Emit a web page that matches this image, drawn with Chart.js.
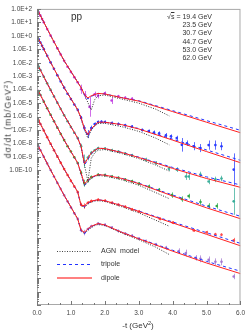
<!DOCTYPE html>
<html>
<head>
<meta charset="utf-8">
<script src="https://cdn.jsdelivr.net/npm/chart.js@4/dist/chart.umd.min.js"></script>
<style>
html,body{margin:0;padding:0;background:#fff;}
#wrap{position:relative;width:249px;height:331px;overflow:hidden;font-family:"Liberation Sans",Arial,sans-serif;color:#333;}
#c{position:absolute;left:0;top:0;display:block;}
.t{position:absolute;white-space:nowrap;line-height:1;}
.e{position:absolute;right:37px;white-space:nowrap;font-size:7px;line-height:8px;text-align:right;}
.lg{position:absolute;left:101px;font-size:7px;line-height:8px;white-space:nowrap;}
sup{font-size:70%;line-height:0;vertical-align:0.45em;}
</style>
</head>
<body>
<div id="wrap">
<canvas id="c" width="249" height="331"></canvas>
<div class="t" style="left:71px;top:12px;font-size:10px;">pp</div>
<div class="e" style="top:13px;">&#8730;<span style="text-decoration:overline">s</span> = 19.4 GeV</div>
<div class="e" style="top:21px;">23.5 GeV</div>
<div class="e" style="top:29px;">30.7 GeV</div>
<div class="e" style="top:38px;">44.7 GeV</div>
<div class="e" style="top:46px;">53.0 GeV</div>
<div class="e" style="top:54px;">62.0 GeV</div>
<div class="lg" style="top:247px;">AGN&nbsp; model</div>
<div class="lg" style="top:260px;">tripole</div>
<div class="lg" style="top:274px;">dipole</div>
<div class="t" style="left:8px;top:119px;font-size:8.5px;letter-spacing:1.1px;transform:translate(-50%,-50%) rotate(-90deg);">d&#963;/dt (mb/GeV<sup>2</sup>)</div>
<div class="t" style="left:138px;top:326px;font-size:8px;transform:translate(-50%,-50%);">-t (GeV<sup>2</sup>)</div>
</div>
<script>
// ---- model grids (-t in GeV^2) ----
const tModel = [0,0.4,0.8,1.2,1.3,1.4,1.5,1.6,1.8,2.0,2.5,3.0,4.0,5.0,6.0];
const tAGN   = [0,0.4,0.8,1.2,1.3,1.4,1.5,1.6,1.7,1.8,2.0,2.5,3.0,3.5,3.9];
const energies = ['19.4','23.5','30.7','44.7','53.0','62.0'];
const yTickLabels = ['1.0E+2','1.0E+1','1.0E+0','1.0E-1','1.0E-2','1.0E-3','1.0E-4','1.0E-5','1.0E-6','1.0E-7','1.0E-8','1.0E-9','1.0E-10'];
const xTickLabels = ['0.0','1.0','2.0','3.0','4.0','5.0','6.0'];

// ---- 19.4 GeV ----
const dipole_194  = [1.0e2,1.07,1.41e-2,3.55e-4,1.41e-4,4.47e-5,2.4e-5,3.55e-5,5.25e-5,4.79e-5,2.51e-5,1.41e-5,2.34e-6,3.8e-7,6.31e-8];
const tripole_194 = [1.0e2,1.07,1.41e-2,3.55e-4,1.35e-4,3.98e-5,2.0e-5,3.16e-5,5.25e-5,4.79e-5,2.57e-5,1.51e-5,2.75e-6,5.01e-7,9.55e-8];
const agn_194     = [1.0e2,1.07,1.41e-2,3.55e-4,1.41e-4,3.98e-5,1.12e-5,3.16e-6,1.78e-5,3.55e-5,3.98e-5,2.0e-5,1.0e-5,3.55e-6,1.12e-6];
const dataT_194   = [0.05,0.1,0.15,0.2,0.3,0.4,0.5,0.6,0.7,0.8,0.9,1.0,1.1,1.2,1.3,1.42,1.55,1.7,1.8,2.0,2.2,2.4,2.6,2.8];
const dataV_194   = [56.2,31.6,17.8,10.0,3.16,1.05,0.355,0.117,0.0407,0.0141,5.01e-3,2.09e-3,8.51e-4,3.55e-4,1.07e-4,3.98e-5,5.25e-6,4.47e-5,3.55e-5,5.25e-5,1.55e-5,3.16e-5,2.51e-5,2.09e-5];
const dataE_194   = [1,1,1,1,1,1,1,1,1,1,1,1,1,1,2.2,2,5.4,1.6,1.6,1.4,1.8,1.3,1.3,1.3];

// ---- 23.5 GeV ----
const dipole_235  = [1.0,1.07e-2,1.41e-4,3.16e-6,7.94e-7,1.26e-7,4.47e-8,1.26e-7,3.8e-7,3.8e-7,2.51e-7,1.2e-7,1.78e-8,2.51e-9,3.72e-10];
const tripole_235 = [1.0,1.07e-2,1.41e-4,3.16e-6,7.59e-7,1.12e-7,3.55e-8,1.12e-7,3.8e-7,3.8e-7,2.57e-7,1.29e-7,2.09e-8,3.31e-9,5.62e-10];
const agn_235     = [1.0,1.07e-2,1.41e-4,3.16e-6,7.08e-7,1.0e-7,2.51e-8,1.0e-7,2.0e-7,3.02e-7,3.16e-7,1.78e-7,7.94e-8,2.51e-8,7.94e-9];
const dataT_235   = [0.05,0.1,0.15,0.2,0.3,0.4,0.5,0.6,0.7,0.8,0.9,1.0,1.1,1.2,1.3,1.4,1.5,1.6,1.7,1.8,1.9,2.0,2.2,2.4,2.6,2.8,3.1,3.3,3.45,3.6,3.8,3.95,4.12,4.27,4.42,4.62,4.82,5.06,5.26,5.44,5.8];
const dataV_235   = [0.562,0.316,0.182,0.102,0.0331,0.0107,3.55e-3,1.17e-3,4.07e-4,1.41e-4,5.01e-5,2.0e-5,7.94e-6,3.16e-6,7.94e-7,1.41e-7,5.01e-8,1.41e-7,2.82e-7,3.98e-7,4.17e-7,3.98e-7,3.31e-7,2.82e-7,2.24e-7,1.78e-7,1.0e-7,8.32e-8,6.61e-8,5.62e-8,3.98e-8,3.39e-8,2.51e-8,7.94e-9,1.05e-8,6.31e-9,4.57e-9,7.59e-9,7.59e-9,6.31e-9,1.15e-10];
const dataE_235   = [1,1,1,1,1,1,1,1,1,1,1,1,1,1,1.4,1.6,2,1.5,1.3,1.3,1.3,1.3,1.3,1.3,1.3,1.3,1.3,1.3,1.4,1.4,1.5,1.4,1.5,3.2,1.6,2,2,2.2,2.2,2,16];

// ---- 30.7 GeV ----
const dipole_307  = [8.91e-3,9.55e-5,1.26e-6,2.51e-8,6.31e-9,3.16e-10,7.94e-10,2.0e-9,4.47e-9,4.17e-9,2.14e-9,9.12e-10,1.41e-10,2.51e-11,5.5e-12];
const tripole_307 = [8.91e-3,9.55e-5,1.26e-6,2.51e-8,5.62e-9,2.51e-10,6.31e-10,1.78e-9,4.47e-9,4.17e-9,2.19e-9,9.77e-10,1.66e-10,3.31e-11,8.32e-12];
const agn_307     = [8.91e-3,9.55e-5,1.26e-6,2.51e-8,5.62e-9,2.51e-10,1.58e-11,7.94e-10,2.0e-9,3.16e-9,3.55e-9,1.78e-9,7.59e-10,2.51e-10,8.91e-11];
const dataT_307   = [0.05,0.1,0.2,0.3,0.4,0.5,0.6,0.7,0.8,0.9,1.0,1.1,1.2,1.3,1.4,1.5,1.6,1.7,1.8,2.0,2.2,2.4,2.6,2.8,3.2,3.5,3.89,4.12,4.39,4.47,4.82,5.06,5.26,5.44,5.8];
const dataV_307   = [5.01e-3,2.82e-3,9.12e-4,2.95e-4,9.55e-5,3.16e-5,1.05e-5,3.63e-6,1.26e-6,4.47e-7,1.66e-7,6.31e-8,2.51e-8,6.31e-9,5.01e-10,8.91e-10,2.0e-9,3.16e-9,4.47e-9,4.17e-9,3.16e-9,2.51e-9,1.78e-9,1.32e-9,6.31e-10,3.55e-10,1.35e-10,1.15e-10,3.55e-11,3.55e-11,5.01e-11,1.51e-11,2.14e-11,2.51e-11,5.01e-13];
const dataE_307   = [1,1,1,1,1,1,1,1,1,1,1,1,1,1.5,3,1.6,1.4,1.3,1.3,1.3,1.3,1.3,1.3,1.3,1.4,1.4,1.5,1.5,1.8,1.8,1.6,1.6,1.6,1.6,10];

// ---- 44.7 GeV ----
const dipole_447  = [1.26e-4,1.35e-6,1.78e-8,3.55e-10,6.31e-11,1.0e-11,1.78e-11,3.16e-11,4.79e-11,4.47e-11,2.51e-11,1.05e-11,1.26e-12,1.66e-13,2.57e-14];
const tripole_447 = [1.26e-4,1.35e-6,1.78e-8,3.55e-10,5.62e-11,7.94e-12,1.58e-11,2.82e-11,4.79e-11,4.47e-11,2.57e-11,1.12e-11,1.48e-12,2.19e-13,3.89e-14];
const agn_447     = [1.26e-4,1.35e-6,1.78e-8,3.55e-10,5.62e-11,7.08e-12,1.41e-11,2.51e-11,3.55e-11,4.17e-11,3.8e-11,2.0e-11,7.94e-12,2.24e-12,7.94e-13];
const dataT_447   = [0.05,0.1,0.2,0.3,0.4,0.5,0.6,0.7,0.8,0.9,1.0,1.1,1.2,1.3,1.4,1.5,1.6,1.8,2.0,2.2,2.4,2.6,2.8,3.0,3.3,3.6,3.98,4.27,4.47,4.82,5.06,5.3];
const dataV_447   = [7.08e-5,3.98e-5,1.29e-5,4.17e-6,1.35e-6,4.47e-7,1.48e-7,5.13e-8,1.78e-8,6.31e-9,2.51e-9,9.55e-10,3.55e-10,6.31e-11,1.12e-11,1.78e-11,3.16e-11,4.79e-11,4.47e-11,3.55e-11,2.82e-11,2.09e-11,1.58e-11,1.05e-11,6.31e-12,3.55e-12,1.45e-12,7.41e-13,1.23e-12,4.47e-13,2.29e-13,2.29e-13];
const dataE_447   = [1,1,1,1,1,1,1,1,1,1,1,1,1,1.5,1.8,1.4,1.3,1.3,1.3,1.3,1.3,1.3,1.3,1.3,1.4,1.4,1.6,1.6,1.5,1.6,1.6,1.6];

// ---- 53.0 GeV ----
const dipole_530  = [8.91e-7,9.55e-9,1.26e-10,2.51e-12,2.51e-13,2.4e-13,3.98e-13,5.25e-13,6.61e-13,5.62e-13,2.4e-13,8.91e-14,1.26e-14,1.78e-15,2.51e-16];
const tripole_530 = [8.91e-7,9.55e-9,1.26e-10,2.51e-12,2.24e-13,2.0e-13,3.55e-13,5.01e-13,6.61e-13,5.62e-13,2.45e-13,9.55e-14,1.48e-14,2.34e-15,3.8e-16];
const agn_530     = [8.91e-7,9.55e-9,1.26e-10,2.51e-12,2.51e-13,1.78e-13,3.16e-13,4.47e-13,5.25e-13,5.62e-13,5.01e-13,2.0e-13,7.08e-14,2.0e-14,7.08e-15];
const dataT_530   = [0.05,0.1,0.2,0.3,0.4,0.5,0.6,0.7,0.8,0.9,1.0,1.1,1.2,1.3,1.4,1.5,1.6,1.8,2.0,2.2,2.4,2.6,2.8,3.0,3.62,4.0,4.62,5.0,5.26,5.44,5.8];
const dataV_530   = [5.01e-7,2.82e-7,9.12e-8,2.95e-8,9.55e-9,3.16e-9,1.05e-9,3.63e-10,1.26e-10,4.47e-11,1.66e-11,6.31e-12,2.51e-12,2.82e-13,2.24e-13,3.98e-13,5.25e-13,6.61e-13,5.62e-13,3.98e-13,2.82e-13,2.0e-13,1.26e-13,8.91e-14,2.51e-14,1.32e-14,3.47e-15,2.51e-15,1.78e-15,1.66e-15,6.46e-16];
const dataE_530   = [1,1,1,1,1,1,1,1,1,1,1,1,1,1.4,1.6,1.3,1.3,1.3,1.3,1.3,1.3,1.3,1.3,1.3,1.3,1.3,1.3,1.3,1.3,1.3,1.5];

// ---- 62.0 GeV ----
const dipole_620  = [1.0e-8,1.07e-10,1.41e-12,2.51e-14,3.55e-15,2.51e-15,4.47e-15,7.08e-15,1.12e-14,8.91e-15,2.51e-15,8.32e-16,1.0e-16,1.32e-17,2.14e-18];
const tripole_620 = [1.0e-8,1.07e-10,1.41e-12,2.51e-14,3.16e-15,2.0e-15,3.98e-15,6.61e-15,1.12e-14,8.91e-15,2.57e-15,8.91e-16,1.17e-16,1.74e-17,3.24e-18];
const agn_620     = [1.0e-8,1.07e-10,1.41e-12,2.51e-14,3.55e-15,2.0e-15,3.55e-15,5.62e-15,7.94e-15,9.55e-15,7.94e-15,2.24e-15,7.08e-16,2.0e-16,5.62e-17];
const dataT_620   = [0.05,0.1,0.2,0.3,0.4,0.5,0.6,0.7,0.8,0.9,1.0,1.1,1.2,1.3,1.4,1.5,1.6,1.8,2.0,2.2,2.4,2.6,2.8,3.0,3.2,3.5,3.8,4.18,4.39,4.68,4.82,5.06,5.26,5.44,5.8];
const dataV_620   = [5.62e-9,3.16e-9,1.02e-9,3.31e-10,1.07e-10,3.55e-11,1.17e-11,4.07e-12,1.41e-12,5.01e-13,1.78e-13,6.61e-14,2.51e-14,3.55e-15,2.4e-15,4.47e-15,7.08e-15,1.12e-14,8.91e-15,5.62e-15,3.16e-15,2.0e-15,1.41e-15,8.32e-16,5.62e-16,3.16e-16,1.78e-16,1.02e-16,7.24e-17,3.16e-17,2.69e-17,2.24e-17,1.62e-17,1.62e-17,1.32e-18];
const dataE_620   = [1,1,1,1,1,1,1,1,1,1,1,1,1,1.4,1.6,1.3,1.3,1.3,1.3,1.3,1.3,1.3,1.3,1.3,1.3,1.3,1.4,1.6,1.8,1.6,1.8,1.8,1.8,1.8,1.6];

// ---- styles ----
const dataColors = ['#c03ce0','#2a3cff','#3aae9a','#2ea84a','#ff4a4a','#a478d0'];
const DIP = '#ff2020', TRI = '#2233ff', AGN = '#333333';
const FONT = '"Liberation Sans", Arial, sans-serif';

const groups = [
  {dip:dipole_194, tri:tripole_194, agn:agn_194, dt:dataT_194, dv:dataV_194, de:dataE_194},
  {dip:dipole_235, tri:tripole_235, agn:agn_235, dt:dataT_235, dv:dataV_235, de:dataE_235},
  {dip:dipole_307, tri:tripole_307, agn:agn_307, dt:dataT_307, dv:dataV_307, de:dataE_307},
  {dip:dipole_447, tri:tripole_447, agn:agn_447, dt:dataT_447, dv:dataV_447, de:dataE_447},
  {dip:dipole_530, tri:tripole_530, agn:agn_530, dt:dataT_530, dv:dataV_530, de:dataE_530},
  {dip:dipole_620, tri:tripole_620, agn:agn_620, dt:dataT_620, dv:dataV_620, de:dataE_620}
];

const datasets = [];
groups.forEach((g, k) => {
  datasets.push({label:'dipole '+energies[k], data:tModel.map((t,i)=>({x:t,y:g.dip[i]})), showLine:true, pointRadius:0, borderColor:DIP, borderWidth:1, order:0});
  datasets.push({label:'tripole '+energies[k], data:tModel.map((t,i)=>({x:t,y:g.tri[i]})), showLine:true, pointRadius:0, borderColor:TRI, borderWidth:1, borderDash:[3,3], order:1});
  datasets.push({label:'AGN '+energies[k], data:tAGN.map((t,i)=>({x:t,y:g.agn[i]})), showLine:true, pointRadius:0, borderColor:AGN, borderWidth:1, borderDash:[1,1.5], order:2});
  datasets.push({label:'data '+energies[k], data:g.dt.map((t,i)=>({x:t,y:g.dv[i]})), showLine:false, pointRadius:1.3, pointBorderWidth:0, pointBackgroundColor:dataColors[k], borderColor:dataColors[k], order:3});
});

const errPlugin = {
  id:'errbars',
  beforeDatasetsDraw(chart){
    const {ctx, chartArea:a, scales:{x:xs, y:ys}} = chart;
    ctx.save();
    ctx.beginPath(); ctx.rect(a.left, a.top, a.right-a.left, a.bottom-a.top); ctx.clip();
    ctx.lineWidth = 1; ctx.globalAlpha = 0.75;
    groups.forEach((g,k)=>{
      ctx.strokeStyle = dataColors[k];
      g.dt.forEach((t,i)=>{
        const f = g.de[i]; if (f <= 1) return;
        const px = Math.round(xs.getPixelForValue(t)) + 0.5;
        ctx.beginPath();
        ctx.moveTo(px, ys.getPixelForValue(g.dv[i]/f));
        ctx.lineTo(px, ys.getPixelForValue(g.dv[i]*f));
        ctx.stroke();
      });
    });
    ctx.restore();
  }
};

const framePlugin = {
  id:'frame',
  afterDatasetsDraw(chart){
    const {ctx, chartArea:a, scales:{x:xs, y:ys}} = chart;
    ctx.save();
    ctx.strokeStyle = '#a8a8a8'; ctx.lineWidth = 1;
    ctx.strokeRect(a.left+0.5, a.top+0.5, a.right-a.left-1, a.bottom-a.top-1);
    ctx.strokeStyle = '#777';
    ctx.beginPath();
    for (let e=-20; e<=2; e++){
      for (let m=1; m<10; m++){
        const v = m*Math.pow(10,e); if (v > 100.0001) break;
        const py = Math.round(ys.getPixelForValue(v)) + 0.5;
        const len = m===1 ? 4 : 2;
        ctx.moveTo(a.left, py); ctx.lineTo(a.left+len, py);
      }
    }
    for (let k=0; k<=18; k++){
      const px = Math.round(xs.getPixelForValue(k/3)) + 0.5;
      const len = k%3===0 ? 4 : 2;
      ctx.moveTo(px, a.bottom); ctx.lineTo(px, a.bottom-len);
    }
    ctx.stroke();
    // legend samples
    const lx0 = 57, lx1 = 92;
    ctx.lineWidth = 1;
    ctx.strokeStyle = '#444'; ctx.setLineDash([1,1.5]);
    ctx.beginPath(); ctx.moveTo(lx0,251.5); ctx.lineTo(lx1,251.5); ctx.stroke();
    ctx.strokeStyle = TRI; ctx.setLineDash([3,3]);
    ctx.beginPath(); ctx.moveTo(lx0,264.5); ctx.lineTo(lx1,264.5); ctx.stroke();
    ctx.strokeStyle = '#ff8080'; ctx.setLineDash([]); ctx.lineWidth = 2;
    ctx.beginPath(); ctx.moveTo(lx0,278); ctx.lineTo(lx1,278); ctx.stroke();
    ctx.restore();
  }
};

new Chart(document.getElementById('c'), {
  type:'scatter',
  data:{datasets},
  plugins:[errPlugin, framePlugin],
  options:{
    responsive:false, animation:false, devicePixelRatio:1,
    layout:{padding:{top:3, right:6, left:0, bottom:0}},
    plugins:{legend:{display:false}, tooltip:{enabled:false}},
    scales:{
      x:{
        type:'linear', min:0, max:6,
        grid:{display:false, drawTicks:false}, border:{display:false},
        ticks:{stepSize:1, autoSkip:false, maxRotation:0, padding:4, color:'#444', font:{size:6.5, family:FONT},
               callback:(v)=>{ const i = Math.round(v); return Math.abs(v-i)<1e-9 && xTickLabels[i]!==undefined ? xTickLabels[i] : ''; }},
        afterFit(s){ s.height = 26; }
      },
      y:{
        type:'logarithmic', min:1e-20, max:1e2,
        grid:{display:false, drawTicks:false}, border:{display:false},
        afterBuildTicks(s){ const arr=[]; for(let e=2;e>=-20;e--) arr.push({value:Math.pow(10,e)}); s.ticks = arr; },
        ticks:{autoSkip:false, padding:5, color:'#444', font:{size:6.5, family:FONT},
               callback:(v)=>{ const e = Math.round(Math.log10(v)); const i = 2-e; return (i>=0 && i<yTickLabels.length) ? yTickLabels[i] : ''; }},
        afterFit(s){ s.width = 37; }
      }
    }
  }
});
</script>
</body>
</html>
